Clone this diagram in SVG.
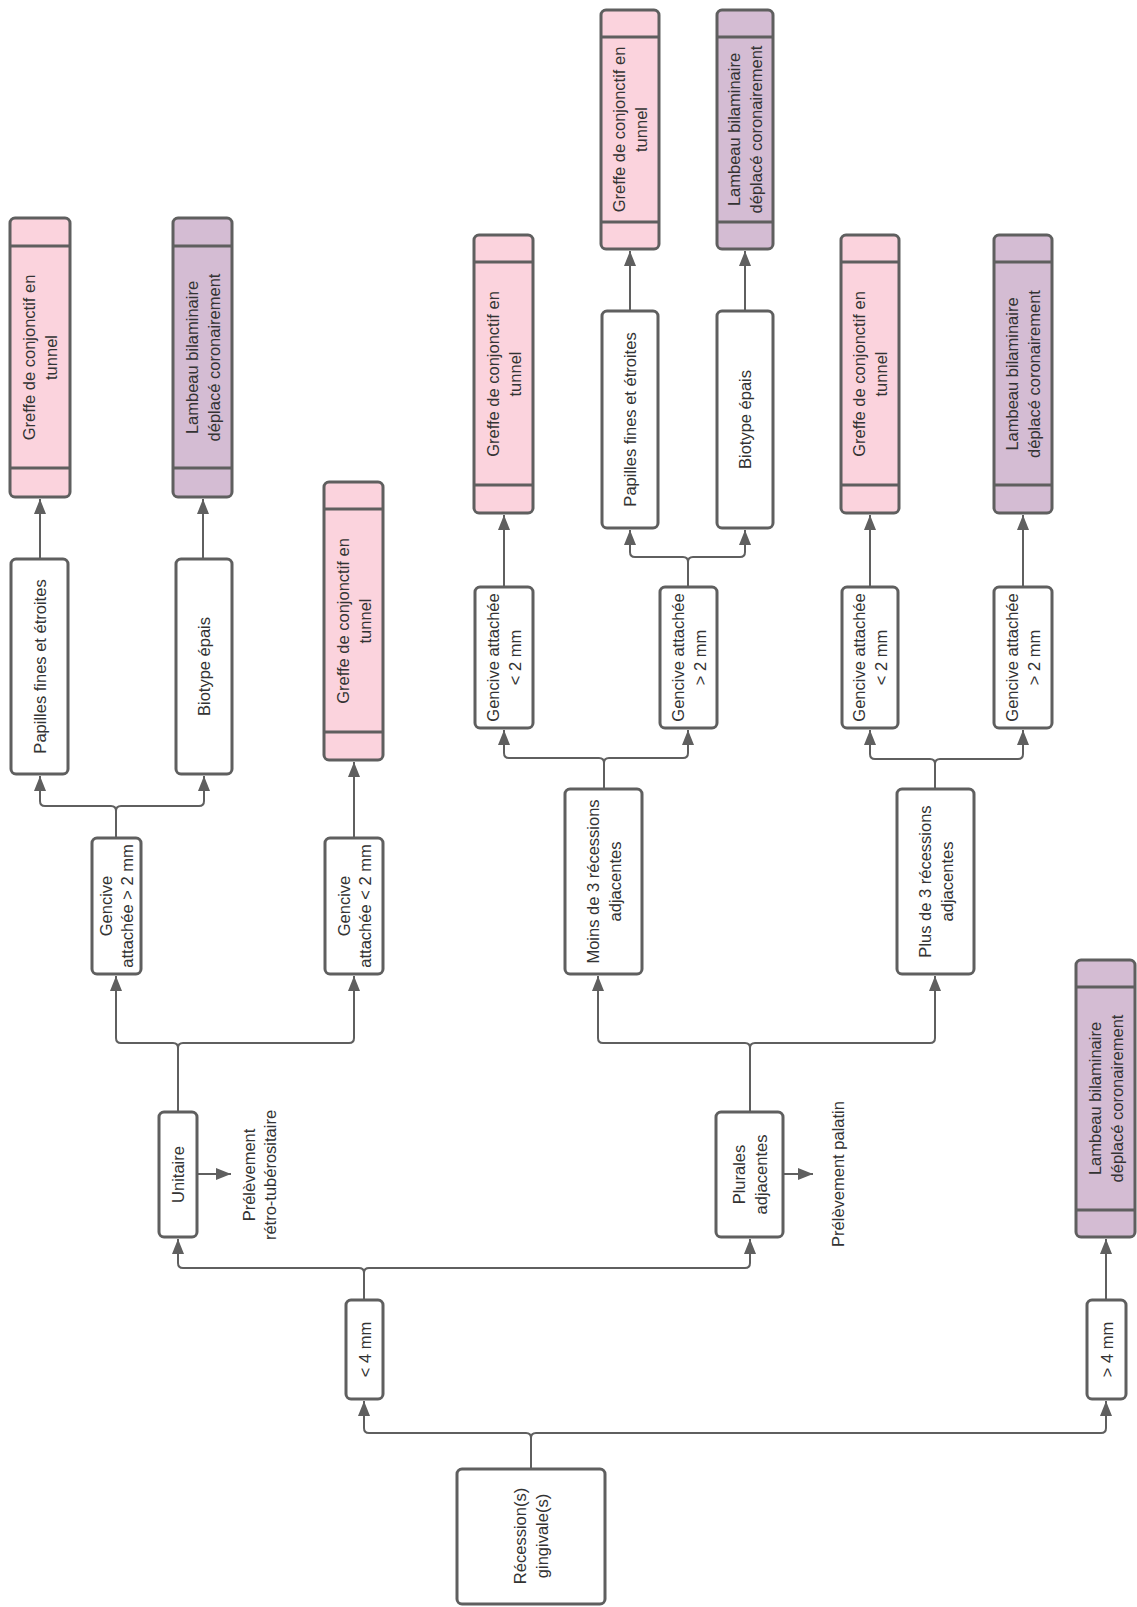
<svg xmlns="http://www.w3.org/2000/svg" width="1137" height="1607" viewBox="0 0 1137 1607">
<style>
.b{stroke:#5f5f5f;stroke-width:3;}
.w{fill:#ffffff;}
.p{fill:#fbd3dd;}
.v{fill:#d4bcd3;}
.band{stroke:#5f5f5f;stroke-width:3;fill:none;}
.t{font-family:"Liberation Sans",Arial,sans-serif;font-size:16.5px;fill:#333333;text-anchor:middle;dominant-baseline:central;}
.c{fill:none;stroke:#5f5f5f;stroke-width:2;marker-end:url(#ah);}
.cl{fill:none;stroke:#5f5f5f;stroke-width:2;}
</style>
<defs>
<marker id="ah" viewBox="0 0 15 12" refX="15" refY="6" markerWidth="15" markerHeight="12" markerUnits="userSpaceOnUse" orient="auto">
<path d="M0,0 L15,6 L0,12 z" fill="#5f5f5f"/>
</marker>
</defs>
<rect width="1137" height="1607" fill="#ffffff"/>

<g id="connectors">
<path class="c" d="M531,1469 V1438 Q531,1433 526,1433 H369 Q364,1433 364,1428 V1401"/>
<path class="c" d="M531,1469 V1438 Q531,1433 536,1433 H1101 Q1106,1433 1106,1428 V1401"/>
<path class="c" d="M364,1300 V1273 Q364,1268 359,1268 H183 Q178,1268 178,1263 V1239"/>
<path class="c" d="M364,1300 V1273 Q364,1268 369,1268 H745 Q750,1268 750,1263 V1239"/>
<path class="c" d="M178,1112 V1048 Q178,1043 173,1043 H121 Q116,1043 116,1038 V976"/>
<path class="c" d="M178,1112 V1048 Q178,1043 183,1043 H349 Q354,1043 354,1038 V976"/>
<path class="c" d="M750,1112 V1048 Q750,1043 745,1043 H603 Q598,1043 598,1038 V976"/>
<path class="c" d="M750,1112 V1048 Q750,1043 755,1043 H930 Q935,1043 935,1038 V976"/>
<path class="c" d="M116,838 V811 Q116,806 111,806 H45 Q40,806 40,801 V776"/>
<path class="c" d="M116,838 V811 Q116,806 121,806 H199 Q204,806 204,801 V776"/>
<path class="c" d="M604,789 V763 Q604,758 599,758 H509 Q504,758 504,753 V730"/>
<path class="c" d="M604,789 V763 Q604,758 609,758 H683 Q688,758 688,753 V730"/>
<path class="c" d="M688,587 V562 Q688,557 683,557 H635 Q630,557 630,552 V530"/>
<path class="c" d="M688,587 V562 Q688,557 693,557 H740 Q745,557 745,552 V530"/>
<path class="c" d="M935,789 V764 Q935,759 930,759 H875 Q870,759 870,754 V730"/>
<path class="c" d="M935,789 V764 Q935,759 940,759 H1018 Q1023,759 1023,754 V730"/>
<path class="c" d="M40,559 V499"/>
<path class="c" d="M203,559 V499"/>
<path class="c" d="M354,838 V762"/>
<path class="c" d="M504,587 V515"/>
<path class="c" d="M630,311 V251"/>
<path class="c" d="M745,311 V251"/>
<path class="c" d="M870,587 V515"/>
<path class="c" d="M1023,587 V515"/>
<path class="c" d="M1106,1300 V1239"/>
<path class="c" d="M197,1174 H231"/>
<path class="c" d="M783,1174 H813"/>
</g>

<g id="recession">
<rect class="b w" x="457" y="1469" width="148" height="135" rx="5"/>
<text class="t" transform="translate(531,1536) rotate(-90)"><tspan x="0" y="-11">Récession(s)</tspan><tspan x="0" y="11">gingivale(s)</tspan></text>
</g>

<g id="lt4">
<rect class="b w" x="346" y="1300" width="37" height="99" rx="5"/>
<text class="t" transform="translate(364.5,1349.5) rotate(-90)">&lt; 4 mm</text>
</g>

<g id="gt4">
<rect class="b w" x="1087" y="1300" width="39" height="99" rx="5"/>
<text class="t" transform="translate(1106.5,1349.5) rotate(-90)">&gt; 4 mm</text>
</g>

<g id="lambeauG">
<rect class="b v" x="1076" y="960" width="59" height="277" rx="5"/>
<path class="band" d="M1076,987 H1135 M1076,1210 H1135"/>
<text class="t" transform="translate(1105.5,1098.5) rotate(-90)"><tspan x="0" y="-11">Lambeau bilaminaire</tspan><tspan x="0" y="11">déplacé coronairement</tspan></text>
</g>

<g id="unitaire">
<rect class="b w" x="159" y="1112" width="38" height="125" rx="5"/>
<text class="t" transform="translate(178,1174.5) rotate(-90)">Unitaire</text>
</g>

<g id="prelev1">
<text class="t" transform="translate(259,1175) rotate(-90)"><tspan x="0" y="-10.5">Prélèvement</tspan><tspan x="0" y="10.5">rétro-tubérositaire</tspan></text>
</g>

<g id="plurales">
<rect class="b w" x="716" y="1112" width="67" height="125" rx="5"/>
<text class="t" transform="translate(749.5,1174.5) rotate(-90)"><tspan x="0" y="-11">Plurales</tspan><tspan x="0" y="11">adjacentes</tspan></text>
</g>

<g id="prelev2">
<text class="t" transform="translate(838,1174) rotate(-90)">Prélèvement palatin</text>
</g>

<g id="gencA">
<rect class="b w" x="92" y="838" width="49" height="136" rx="5"/>
<text class="t" transform="translate(116.5,906) rotate(-90)"><tspan x="0" y="-10.5">Gencive</tspan><tspan x="0" y="10.5">attachée &gt; 2 mm</tspan></text>
</g>

<g id="gencB">
<rect class="b w" x="325" y="838" width="58" height="136" rx="5"/>
<text class="t" transform="translate(354,906) rotate(-90)"><tspan x="0" y="-10.5">Gencive</tspan><tspan x="0" y="10.5">attachée &lt; 2 mm</tspan></text>
</g>

<g id="papillesA">
<rect class="b w" x="11" y="559" width="57" height="215" rx="5"/>
<text class="t" transform="translate(39.5,666.5) rotate(-90)">Papilles fines et étroites</text>
</g>

<g id="biotypeA">
<rect class="b w" x="176" y="559" width="56" height="215" rx="5"/>
<text class="t" transform="translate(204,666.5) rotate(-90)">Biotype épais</text>
</g>

<g id="greffeA">
<rect class="b p" x="10" y="218" width="60" height="279" rx="5"/>
<path class="band" d="M10,246 H70 M10,468 H70"/>
<text class="t" transform="translate(40,357.5) rotate(-90)"><tspan x="0" y="-11">Greffe de conjonctif en</tspan><tspan x="0" y="11">tunnel</tspan></text>
</g>

<g id="lambeauA">
<rect class="b v" x="173" y="218" width="59" height="279" rx="5"/>
<path class="band" d="M173,246 H232 M173,468 H232"/>
<text class="t" transform="translate(202.5,357.5) rotate(-90)"><tspan x="0" y="-11">Lambeau bilaminaire</tspan><tspan x="0" y="11">déplacé coronairement</tspan></text>
</g>

<g id="greffeB">
<rect class="b p" x="324" y="482" width="59" height="278" rx="5"/>
<path class="band" d="M324,509 H383 M324,732 H383"/>
<text class="t" transform="translate(353.5,621) rotate(-90)"><tspan x="0" y="-11">Greffe de conjonctif en</tspan><tspan x="0" y="11">tunnel</tspan></text>
</g>

<g id="moins">
<rect class="b w" x="565" y="789" width="77" height="185" rx="5"/>
<text class="t" transform="translate(603.5,881.5) rotate(-90)"><tspan x="0" y="-11">Moins de 3 récessions</tspan><tspan x="0" y="11">adjacentes</tspan></text>
</g>

<g id="plus">
<rect class="b w" x="897" y="789" width="77" height="185" rx="5"/>
<text class="t" transform="translate(935.5,881.5) rotate(-90)"><tspan x="0" y="-11">Plus de 3 récessions</tspan><tspan x="0" y="11">adjacentes</tspan></text>
</g>

<g id="gencC">
<rect class="b w" x="475" y="587" width="58" height="141" rx="5"/>
<text class="t" transform="translate(504,657.5) rotate(-90)"><tspan x="0" y="-11">Gencive attachée</tspan><tspan x="0" y="11">&lt; 2 mm</tspan></text>
</g>

<g id="gencD">
<rect class="b w" x="660" y="587" width="57" height="141" rx="5"/>
<text class="t" transform="translate(688.5,657.5) rotate(-90)"><tspan x="0" y="-11">Gencive attachée</tspan><tspan x="0" y="11">&gt; 2 mm</tspan></text>
</g>

<g id="gencE">
<rect class="b w" x="842" y="587" width="56" height="141" rx="5"/>
<text class="t" transform="translate(870,657.5) rotate(-90)"><tspan x="0" y="-11">Gencive attachée</tspan><tspan x="0" y="11">&lt; 2 mm</tspan></text>
</g>

<g id="gencF">
<rect class="b w" x="994" y="587" width="58" height="141" rx="5"/>
<text class="t" transform="translate(1023,657.5) rotate(-90)"><tspan x="0" y="-11">Gencive attachée</tspan><tspan x="0" y="11">&gt; 2 mm</tspan></text>
</g>

<g id="greffeC">
<rect class="b p" x="474" y="235" width="59" height="278" rx="5"/>
<path class="band" d="M474,262 H533 M474,485 H533"/>
<text class="t" transform="translate(503.5,374) rotate(-90)"><tspan x="0" y="-11">Greffe de conjonctif en</tspan><tspan x="0" y="11">tunnel</tspan></text>
</g>

<g id="papillesD">
<rect class="b w" x="602" y="311" width="56" height="217" rx="5"/>
<text class="t" transform="translate(630,419.5) rotate(-90)">Papilles fines et étroites</text>
</g>

<g id="biotypeD">
<rect class="b w" x="717" y="311" width="56" height="217" rx="5"/>
<text class="t" transform="translate(745,419.5) rotate(-90)">Biotype épais</text>
</g>

<g id="greffeD">
<rect class="b p" x="601" y="10" width="58" height="239" rx="5"/>
<path class="band" d="M601,37 H659 M601,222 H659"/>
<text class="t" transform="translate(630,129.5) rotate(-90)"><tspan x="0" y="-11">Greffe de conjonctif en</tspan><tspan x="0" y="11">tunnel</tspan></text>
</g>

<g id="lambeauD">
<rect class="b v" x="717" y="10" width="56" height="239" rx="5"/>
<path class="band" d="M717,37 H773 M717,222 H773"/>
<text class="t" transform="translate(745,129.5) rotate(-90)"><tspan x="0" y="-11">Lambeau bilaminaire</tspan><tspan x="0" y="11">déplacé coronairement</tspan></text>
</g>

<g id="greffeE">
<rect class="b p" x="841" y="235" width="58" height="278" rx="5"/>
<path class="band" d="M841,262 H899 M841,485 H899"/>
<text class="t" transform="translate(870,374) rotate(-90)"><tspan x="0" y="-11">Greffe de conjonctif en</tspan><tspan x="0" y="11">tunnel</tspan></text>
</g>

<g id="lambeauE">
<rect class="b v" x="994" y="235" width="58" height="278" rx="5"/>
<path class="band" d="M994,262 H1052 M994,485 H1052"/>
<text class="t" transform="translate(1023,374) rotate(-90)"><tspan x="0" y="-11">Lambeau bilaminaire</tspan><tspan x="0" y="11">déplacé coronairement</tspan></text>
</g>
</svg>
